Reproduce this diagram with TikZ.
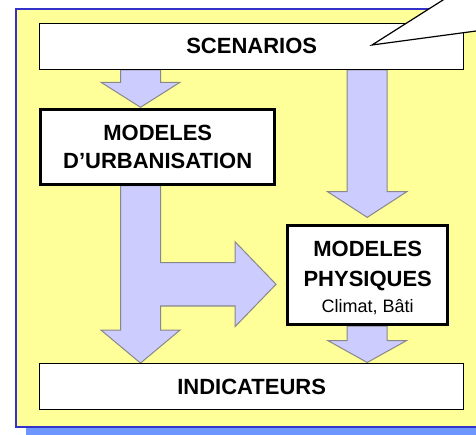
\documentclass[tikz,border=0pt]{standalone}
\usepackage{fontspec}
\setmainfont{Liberation Sans}
\usetikzlibrary{calc}
\pgfdeclarelayer{bg}
\pgfdeclarelayer{arr}
\pgfdeclarelayer{top}
\pgfsetlayers{bg,arr,main,top}
\definecolor{frameyellow}{RGB}{255,255,153}
\definecolor{frameblue}{RGB}{51,51,204}
\definecolor{shadowblue}{RGB}{110,150,255}
\definecolor{arrowfill}{RGB}{204,204,255}
\definecolor{arrowline}{RGB}{136,136,136}
% #1 x centre, #2 start anchor, #3 target anchor, #4 head length, #5 gap before target
\newcommand\vblock[5]{%
  \draw[blockarrow] let \p1=(#2), \p2=(#3) in
    (#1pt-20pt,\y1) -- (#1pt-20pt,\y2+#5pt+#4pt) -- (#1pt-39.5pt,\y2+#5pt+#4pt)
    -- (#1pt,\y2+#5pt) -- (#1pt+39.5pt,\y2+#5pt+#4pt) -- (#1pt+20pt,\y2+#5pt+#4pt)
    -- (#1pt+20pt,\y1) -- cycle;}
\begin{document}
\begin{tikzpicture}[x=1pt,y=-1pt,
  thinbox/.style={draw=black, line width=1.2pt, fill=white, inner sep=0pt,
    font=\fontsize{22}{28}\selectfont\bfseries},
  thickbox/.style={draw=black, line width=3pt, fill=white, inner sep=0pt, align=center,
    font=\fontsize{22}{28.7}\selectfont\bfseries},
  blockarrow/.style={fill=arrowfill, draw=arrowline, line width=1pt, line join=miter},
  framebox/.style={fill=frameyellow, draw=frameblue, line width=1.6pt},
  callout/.style={fill=white, draw=black, line width=1.2pt, line join=miter},
]
\useasboundingbox (0,0) rectangle (476,435);

% boxes
\node[thinbox, minimum width=424, minimum height=46] (scen) at (251.7,46.3) {SCENARIOS};
\node[thickbox, minimum width=233.7, minimum height=74.4] (urb) at (157.7,147)
  {MODELES\\D’URBANISATION};
\node[thickbox, font=\fontsize{22}{30}\selectfont\bfseries,
      minimum width=160.3, minimum height=98.7] (phys) at (367.7,275.2)
  {\rule{0pt}{20.8pt}MODELES\\PHYSIQUES\\[-3.4pt]{\fontsize{18}{22}\selectfont\mdseries Climat, Bâti}};
\node[thinbox, minimum width=424, minimum height=46] (ind) at (251.7,386.7) {INDICATEURS};

% frame
\begin{pgfonlayer}{bg}
  \fill[shadowblue] (26,17) rectangle (500,435);
  \draw[framebox] (16,9.2) rectangle (500,427);
\end{pgfonlayer}

% block arrows
\begin{pgfonlayer}{arr}
  \vblock{140.5}{scen.south}{urb.north}{25}{1}
  \vblock{367.2}{scen.south}{phys.north}{25.6}{7}
  \vblock{367.2}{phys.south}{ind.north}{22}{0.6}
  \draw[blockarrow] let \p1=(urb.south), \p2=(ind.north), \p3=(phys.west) in
    (120.5pt,\y1) -- (120.5pt,\y2+33pt) -- (101pt,\y2+33pt) -- (140.5pt,\y2)
    -- (180pt,\y2+33pt) -- (160.5pt,\y2+33pt) -- (160.5,306) -- (235,306)
    -- (235,326.7) -- (\x3-10pt,-284.3pt) -- (235,241.7) -- (235,262.7)
    -- (160.5,262.7) -- (160.5pt,\y1) -- cycle;
\end{pgfonlayer}

% callout
\begin{pgfonlayer}{top}
  \begin{scope}
    \clip (0,0) rectangle (476,435);
    \coordinate (ctip) at (372,45);
    \draw[callout] (ctip) -- (449.3,-4) -- (500,-4) -- (500,27.8) -- cycle;
  \end{scope}
\end{pgfonlayer}
\end{tikzpicture}
\end{document}
